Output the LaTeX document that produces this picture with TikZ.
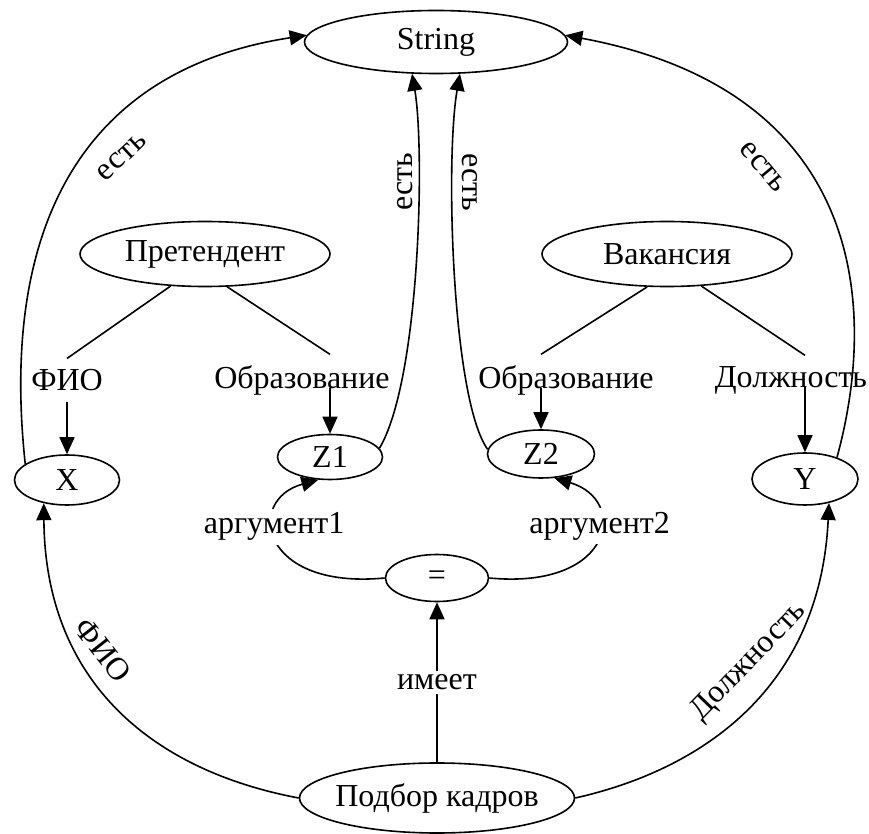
\documentclass[tikz,border=0pt]{standalone}
\usepackage{fontspec}
\setmainfont{Liberation Serif}
\usetikzlibrary{shapes.geometric,arrows.meta}

\begin{document}
\begin{tikzpicture}[x=0.5pt,y=-0.5pt,line width=0.8pt,
  font=\fontsize{16}{19}\selectfont,
  >={Triangle[length=8.5pt,width=7.5pt]},
  ell/.style={ellipse,draw,inner sep=0pt},
  attr/.style={inner sep=5pt},
  lbl/.style={inner sep=1pt},
  cut/.style={fill=white,inner sep=2pt}]

  \useasboundingbox (0,0) rectangle (869,834);

  % concepts
  \node[ell,minimum width=131.5pt,minimum height=31.5pt] (str) at (436,42) {String};
  \node[ell,minimum width=125pt,minimum height=32.5pt] (pret) at (205,254) {Претендент};
  \node[ell,minimum width=125pt,minimum height=32.5pt] (vak) at (667,254) {Вакансия};
  \node[ell,minimum width=52.5pt,minimum height=25pt] (varx) at (67,480) {X};
  \node[ell,minimum width=52.5pt,minimum height=22.5pt] (z1) at (330,457) {Z1};
  \node[ell,minimum width=53.5pt,minimum height=24pt] (z2) at (541,454) {Z2};
  \node[ell,minimum width=53pt,minimum height=26pt] (vary) at (805,479) {Y};
  \node[ell,minimum width=51.5pt,minimum height=23.5pt] (eq) at (437,578) {=};
  \node[ell,minimum width=137.5pt,minimum height=35pt,inner xsep=-10pt] (podbor) at (437,798) {Подбор кадров};

  % attributes
  \node[attr] (fio) at (67,380) {ФИО};
  \node[attr] (obr1) at (302,380) {Образование};
  \node[attr] (obr2) at (566,380) {Образование};
  \node[attr] (dolzh) at (791,380) {Должность};

  \draw (pret.223) -- (varx |- fio.north);
  \draw (pret.304) -- (z1 |- obr1.north);
  \draw (vak.239) -- (z2 |- obr2.north);
  \draw (vak.317) -- (vary |- dolzh.north);

  \draw[->] (fio) -- (varx);
  \draw[->] (z1 |- obr1.base) -- (z1);
  \draw[->] (z2 |- obr2.base) -- (z2);
  \draw[->] (vary |- dolzh.base) -- (vary);

  % arcs up to String
  \draw[->] (varx.159) .. controls (0,230) and (80,70) .. (str.177);
  \draw[->] (vary.34) .. controls (880,300) and (860,90) .. (str.3);
  \draw[->] (z1.10) .. controls (420,380) and (425,150) .. (str.233);
  \draw[->] (z2.175) .. controls (452,400) and (445,160) .. (str.307);

  \node[lbl,rotate=43] (est1) at (122,157) {есть};
  \node[lbl,rotate=90] (est2) at (405,182) {есть};
  \node[lbl,rotate=-90] (est3) at (470,182) {есть};
  \node[lbl,rotate=-50] (est4) at (763,167) {есть};

  % arguments of =
  \draw[->] (eq.west) .. controls (260,590) and (245,500) .. node[cut,pos=0.6] (arg1) {аргумент1} (z1.243);
  \draw[->] (eq.east) .. controls (614,590) and (629,500) .. node[cut,pos=0.6] (arg2) {аргумент2} (z2.299);

  % from Подбор кадров
  \draw[->] (podbor) -- node[cut] (imeet) {имеет} (eq);
  \draw[->] (podbor.west) .. controls (150,770) and (45,680) .. (varx.225);
  \draw[->] (podbor.east) .. controls (700,770) and (820,690) .. (vary.315);

  \node[lbl,rotate=-52] (fioarc) at (103,650) {ФИО};
  \node[lbl,rotate=46] (dolzharc) at (749,662) {Должность};

\end{tikzpicture}
\end{document}
